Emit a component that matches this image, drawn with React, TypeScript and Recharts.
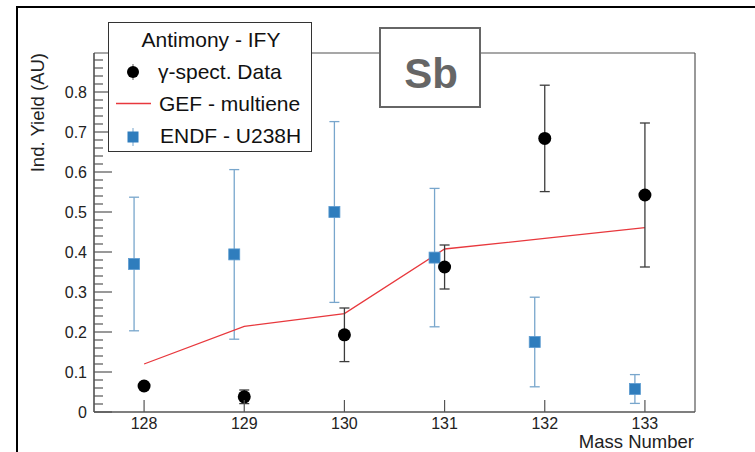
import { ComposedChart, Scatter, Line, XAxis, YAxis, ErrorBar, ReferenceLine, Legend } from 'recharts'

const massNumbers = [128, 129, 130, 131, 132, 133]
const gammaYield = [0.065, 0.038, 0.193, 0.3625, 0.684, 0.5425]
const gammaErr = [0.006, 0.017, 0.067, 0.055, 0.133, 0.18]
const gefYield = [0.12, 0.214, 0.246, 0.4075, 0.434, 0.461]
const endfMass = [127.9, 128.9, 129.9, 130.9, 131.9, 132.9]
const endfYield = [0.37, 0.394, 0.5, 0.386, 0.175, 0.0575]
const endfErr = [0.167, 0.212, 0.226, 0.173, 0.112, 0.036]
const yMajorTicks = [0, 0.1, 0.2, 0.3, 0.4, 0.5, 0.6, 0.7, 0.8]
const xRange = [127.5, 133.5]
const yRange = [0, 0.8975]

const FONT = '"Liberation Sans", Arial, sans-serif'

const gammaData = massNumbers.map((x, i) => ({ x, y: gammaYield[i], err: gammaErr[i] }))
const gefData = massNumbers.map((x, i) => ({ x, y: gefYield[i] }))
const endfData = endfMass.map((x, i) => ({ x, y: endfYield[i], err: endfErr[i] }))

// major ticks plus 4 minor subdivisions between them (ROOT style)
const yTicks: number[] = []
yMajorTicks.forEach((t) => {
  for (let k = 0; k < 5; k++) {
    const v = Math.round((t + k * 0.02) * 1000) / 1000
    if (v <= yRange[1]) yTicks.push(v)
  }
})

function YTick({ x, y, payload }: any) {
  const v = payload.value as number
  const major = Math.round(v * 50) % 5 === 0
  return (
    <g>
      <line x1={x} x2={x + (major ? 18 : 9)} y1={y} y2={y} stroke="#555" strokeWidth={1.2} />
      {major && (
        <text x={x - 7} y={y + 5.8} textAnchor="end" fontSize={16} fontFamily={FONT} fill="#222">
          {v === 0 ? '0' : v.toFixed(1)}
        </text>
      )}
    </g>
  )
}

function XTick({ x, y, payload }: any) {
  return (
    <g>
      <line x1={x} x2={x} y1={y} y2={y - 12} stroke="#555" strokeWidth={1.2} />
      <text x={x} y={y + 16.5} textAnchor="middle" fontSize={16} fontFamily={FONT} fill="#222">
        {payload.value}
      </text>
    </g>
  )
}

const dot = (p: any) => <circle cx={p.cx} cy={p.cy} r={6.5} fill="#000" />
const square = (p: any) => (
  <rect x={p.cx - 5.5} y={p.cy - 5.5} width={11} height={11} fill="#2f7dbd" stroke="#5c9bd0" strokeWidth={0.8} />
)

function LegendBox() {
  return (
    <div style={{ width: 204, height: 130, border: '1.5px solid #333', background: '#fff', boxSizing: 'border-box' }}>
      <svg width={204} height={130} style={{ display: 'block', marginLeft: -1.5, marginTop: -1.5 }}>
        <text x={103} y={25} textAnchor="middle" fontSize={21} fontFamily={FONT} fill="#111">
          Antimony - IFY
        </text>
        <line x1={25} x2={25} y1={42} y2={58} stroke="#777" strokeWidth={1.2} />
        <circle cx={25} cy={50} r={6} fill="#000" />
        <text x={50} y={57} fontSize={21} fontFamily={FONT} fill="#111">γ-spect. Data</text>
        <line x1={8} x2={43} y1={81.5} y2={81.5} stroke="#e8383d" strokeWidth={1.3} />
        <text x={51} y={89} fontSize={21} fontFamily={FONT} fill="#111">GEF - multiene</text>
        <line x1={25} x2={25} y1={106} y2={124} stroke="#8cb4d6" strokeWidth={1.2} />
        <rect x={19.5} y={109.5} width={11} height={11} fill="#2f7dbd" />
        <text x={52} y={121} fontSize={21} fontFamily={FONT} fill="#111">ENDF - U238H</text>
      </svg>
    </div>
  )
}

export default function App() {
  return (
    <div style={{ position: 'absolute', left: 0, top: 0, width: 755, height: 452, overflow: 'hidden', background: '#fff' }}>
      <div style={{ position: 'absolute', left: 16, top: 6, width: 800, height: 500, border: '2.5px solid #000' }} />
      <div style={{ position: 'absolute', left: 0, top: 0 }}>
        <ComposedChart width={755} height={452} margin={{ top: 53, right: 60, bottom: 0, left: 34 }}>
          <XAxis
            type="number"
            dataKey="x"
            domain={xRange}
            ticks={massNumbers}
            allowDataOverflow
            height={40}
            tickSize={0}
            tickMargin={0}
            tick={<XTick />}
            axisLine={{ stroke: '#555', strokeWidth: 1.5 }}
          />
          <YAxis
            type="number"
            dataKey="y"
            domain={yRange}
            ticks={yTicks}
            allowDataOverflow
            width={60}
            tickSize={0}
            tickMargin={0}
            tick={<YTick />}
            interval={0}
            axisLine={{ stroke: '#444', strokeWidth: 1.5 }}
          />
          <ReferenceLine y={yRange[1]} stroke="#8a8a8a" strokeWidth={1.5} />
          <ReferenceLine x={xRange[1]} stroke="#555" strokeWidth={1.2} />
          <Scatter data={endfData} shape={square} isAnimationActive={false}>
            <ErrorBar dataKey="err" direction="y" width={5} stroke="#78a6cc" strokeWidth={1.3} />
          </Scatter>
          <Line
            data={gefData}
            dataKey="y"
            stroke="#e8383d"
            strokeWidth={1.3}
            dot={false}
            activeDot={false}
            isAnimationActive={false}
          />
          <Scatter data={gammaData} shape={dot} isAnimationActive={false}>
            <ErrorBar dataKey="err" direction="y" width={5} stroke="#3c3c3c" strokeWidth={1.3} />
          </Scatter>
          <Legend
            layout="horizontal"
            verticalAlign="middle"
            align="center"
            content={() => <LegendBox />}
            wrapperStyle={{ position: 'absolute', left: 108, top: 22, width: 204, height: 130 }}
          />
        </ComposedChart>
      </div>
      <div
        style={{
          position: 'absolute',
          left: 379,
          top: 27,
          width: 102,
          height: 81,
          border: '2px solid #666',
          background: '#fff',
          boxSizing: 'border-box',
        }}
      >
        <svg width={102} height={81} style={{ display: 'block', marginLeft: -2, marginTop: -2 }}>
          <text x={52} y={61} textAnchor="middle" fontSize={42} fontWeight="bold" fontFamily={FONT} fill="#666">
            Sb
          </text>
        </svg>
      </div>
      <svg width={755} height={452} style={{ position: 'absolute', left: 0, top: 0, pointerEvents: 'none' }}>
        <text
          transform="translate(44,53) rotate(-90)"
          textAnchor="end"
          fontSize={18.5}
          fontFamily={FONT}
          fill="#222"
        >
          Ind. Yield (AU)
        </text>
        <text x={694} y={448} textAnchor="end" fontSize={18.5} fontFamily={FONT} fill="#222">
          Mass Number
        </text>
      </svg>
    </div>
  )
}
